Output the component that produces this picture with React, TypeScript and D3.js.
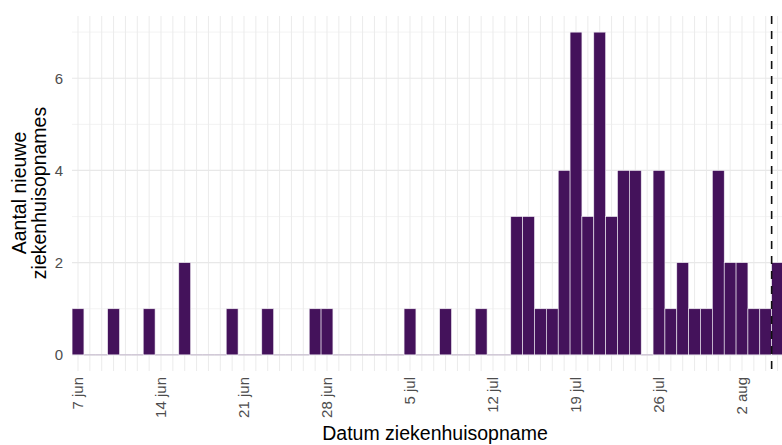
import * as d3 from "d3";
import { useEffect, useRef } from "react";

// dagelijkse ziekenhuisopnames vanaf 7 juni
const startDate = new Date(Date.UTC(2020, 5, 7));
const counts = [
	1, 0, 0, 1, 0, 0, 1, 0, 0, 2, 0, 0, 0, 1, 0, 0, 1, 0, 0, 0, 1, 1, 0, 0, 0, 0, 0, 0, 1, 0,
	0, 1, 0, 0, 1, 0, 0, 3, 3, 1, 1, 4, 7, 3, 7, 3, 4, 4, 0, 4, 1, 2, 1, 1, 4, 2, 2, 1, 1, 2,
];
const tickDates = [
	new Date(Date.UTC(2020, 5, 7)),
	new Date(Date.UTC(2020, 5, 14)),
	new Date(Date.UTC(2020, 5, 21)),
	new Date(Date.UTC(2020, 5, 28)),
	new Date(Date.UTC(2020, 6, 5)),
	new Date(Date.UTC(2020, 6, 12)),
	new Date(Date.UTC(2020, 6, 19)),
	new Date(Date.UTC(2020, 6, 26)),
	new Date(Date.UTC(2020, 7, 2)),
];
const tickLabels = ["7 jun", "14 jun", "21 jun", "28 jun", "5 jul", "12 jul", "19 jul", "26 jul", "2 aug"];
const yTicks = [0, 2, 4, 6];
const yMinor = [1, 3, 5, 7];
// grens laatste (onvolledige) dagen
const cutoffDate = new Date(Date.UTC(2020, 7, 4, 12));

const W = 782;
const H = 445;
const DAY = 24 * 3600 * 1000;

export default function App() {
	const ref = useRef<SVGSVGElement | null>(null);

	useEffect(() => {
		if (!ref.current) return;
		const svg = d3.select(ref.current);
		svg.selectAll("*").remove();

		const panel = { left: 72, right: W, top: 16, bottom: 371 };

		const x = d3
			.scaleUtc()
			.domain([tickDates[0], tickDates[tickDates.length - 1]])
			.range([78, 742]);
		const y = d3.scaleLinear().domain([-0.35, 7.35]).range([panel.bottom, panel.top]);
		const bw = x(new Date(startDate.getTime() + DAY)) - x(startDate);

		const data = counts.map((c, i) => ({ date: new Date(startDate.getTime() + i * DAY), count: c }));

		const clip = svg
			.append("defs")
			.append("clipPath")
			.attr("id", "panel-clip")
			.append("rect")
			.attr("x", panel.left)
			.attr("y", panel.top)
			.attr("width", panel.right - panel.left)
			.attr("height", panel.bottom - panel.top);

		const g = svg.append("g").attr("clip-path", "url(#panel-clip)");

		// grid: minor y
		g.append("g")
			.selectAll("line")
			.data(yMinor)
			.join("line")
			.attr("x1", panel.left)
			.attr("x2", panel.right)
			.attr("y1", (d) => y(d))
			.attr("y2", (d) => y(d))
			.attr("stroke", "#f0f0f0")
			.attr("stroke-width", 0.8);

		// grid: every day (vertical)
		const days = d3.utcDay.range(startDate, new Date(startDate.getTime() + 62 * DAY));
		g.append("g")
			.selectAll("line")
			.data(days)
			.join("line")
			.attr("x1", (d) => x(d))
			.attr("x2", (d) => x(d))
			.attr("y1", panel.top)
			.attr("y2", panel.bottom)
			.attr("stroke", "#ebebeb")
			.attr("stroke-width", 1);

		// grid: major y
		g.append("g")
			.selectAll("line")
			.data(yTicks)
			.join("line")
			.attr("x1", panel.left)
			.attr("x2", panel.right)
			.attr("y1", (d) => y(d))
			.attr("y2", (d) => y(d))
			.attr("stroke", "#e8e8e8")
			.attr("stroke-width", 1.2);

		// zero-lijn onder dagen zonder opnames
		g.append("g")
			.selectAll("line")
			.data(data.filter((d) => d.count === 0))
			.join("line")
			.attr("x1", (d) => x(d.date) - bw / 2)
			.attr("x2", (d) => x(d.date) + bw / 2)
			.attr("y1", y(0))
			.attr("y2", y(0))
			.attr("stroke", "#c2b6cb")
			.attr("stroke-width", 1);

		g.append("g")
			.selectAll("rect")
			.data(data.filter((d) => d.count > 0))
			.join("rect")
			.attr("x", (d) => x(d.date) - bw / 2)
			.attr("width", bw)
			.attr("y", (d) => y(d.count))
			.attr("height", (d) => y(0) - y(d.count))
			.attr("fill", "#44125b")
			.attr("stroke", "#f2eef5")
			.attr("stroke-width", 0.6);

		g.append("line")
			.attr("x1", x(cutoffDate))
			.attr("x2", x(cutoffDate))
			.attr("y1", panel.top)
			.attr("y2", panel.bottom)
			.attr("stroke", "#111")
			.attr("stroke-width", 1.6)
			.attr("stroke-dasharray", "8,7");

		// y tick labels
		svg
			.append("g")
			.selectAll("text")
			.data(yTicks)
			.join("text")
			.attr("x", 63)
			.attr("y", (d) => y(d))
			.attr("dy", "0.36em")
			.attr("text-anchor", "end")
			.attr("font-family", "Liberation Sans, Arial, sans-serif")
			.attr("font-size", 15)
			.attr("fill", "#4d4d4d")
			.text((d) => d);

		// x tick labels
		svg
			.append("g")
			.selectAll("text")
			.data(tickDates)
			.join("text")
			.attr("transform", (d) => `translate(${x(d)},377) rotate(-90)`)
			.attr("dy", "0.36em")
			.attr("text-anchor", "end")
			.attr("font-family", "Liberation Sans, Arial, sans-serif")
			.attr("font-size", 15)
			.attr("fill", "#4d4d4d")
			.text((d, i) => tickLabels[i]);

		// axis titles
		svg
			.append("text")
			.attr("x", 435)
			.attr("y", 440)
			.attr("text-anchor", "middle")
			.attr("font-family", "Liberation Sans, Arial, sans-serif")
			.attr("font-size", 19.5)
			.attr("fill", "#000")
			.text("Datum ziekenhuisopname");

		const yt = svg
			.append("text")
			.attr("transform", "translate(0,193) rotate(-90)")
			.attr("text-anchor", "middle")
			.attr("font-family", "Liberation Sans, Arial, sans-serif")
			.attr("font-size", 19.5)
			.attr("fill", "#000");
		yt.append("tspan").attr("x", 0).attr("y", 26).text("Aantal nieuwe");
		yt.append("tspan").attr("x", 0).attr("y", 46).text("ziekenhuisopnames");
	}, []);

	return (
		<svg
			ref={ref}
			width={W}
			height={H}
			style={{ position: "absolute", left: 0, top: 0, background: "#fff" }}
		></svg>
	);
}
